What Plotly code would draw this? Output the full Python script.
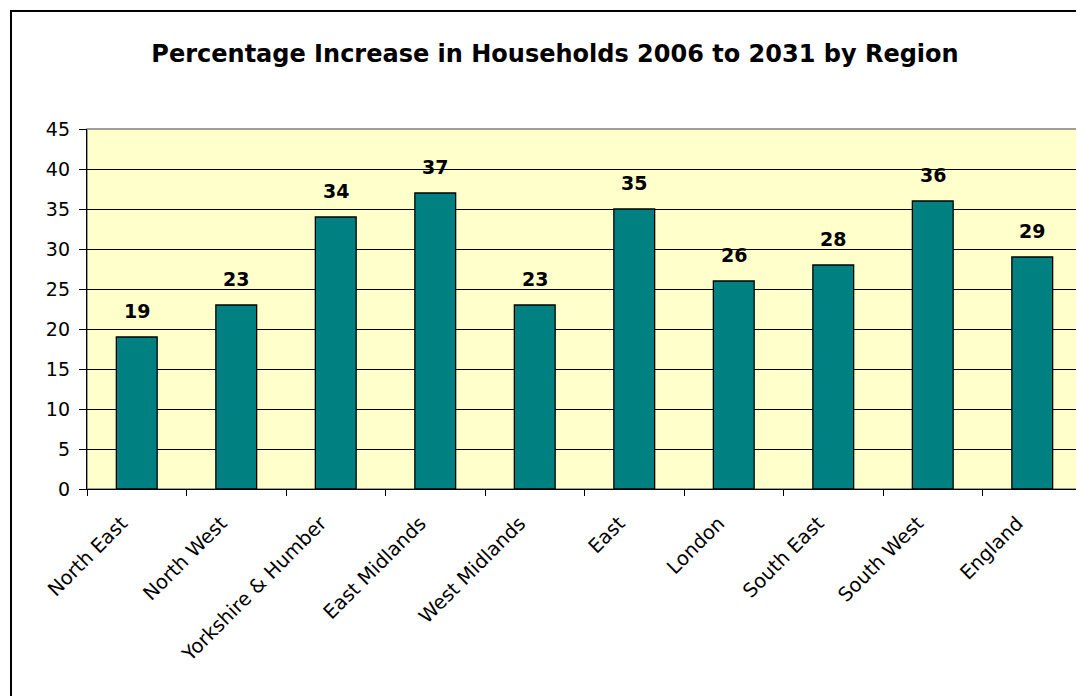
import plotly.graph_objects as go

regions = ["North East", "North West", "Yorkshire & Humber", "East Midlands",
           "West Midlands", "East", "London", "South East", "South West", "England"]
increase = [19, 23, 34, 37, 23, 35, 26, 28, 36, 29]
y_ticks = [0, 5, 10, 15, 20, 25, 30, 35, 40, 45]

# the page body adds an 8px offset, so the figure is drawn 8px smaller
OFF = 8
W, H = 1084 - OFF, 696 - OFF
ML, MT = 87 - OFF, 129 - OFF
MR = W - (1082 - OFF)
MB = H - (489 - OFF)
pw, ph = W - ML - MR, H - MT - MB

FONT = "DejaVu Sans, Arial"

fig = go.Figure()
fig.add_trace(go.Bar(
    x=regions, y=increase,
    marker=dict(color="#008080", line=dict(color="#000000", width=1.3)),
    width=0.41, hoverinfo="skip",
))

for r, v in zip(regions, increase):
    fig.add_annotation(x=r, y=v, text=f"<b>{v}</b>", showarrow=False,
                       yshift=26, font=dict(family=FONT, size=19, color="#000"))

# outer chart frame
fig.add_shape(type="rect", xref="paper", yref="paper",
              x0=(11 - 87) / pw, x1=2.0, y0=-1.0, y1=(489 - 11) / ph,
              line=dict(color="#000000", width=2), fillcolor="rgba(0,0,0,0)", layer="above")
# plot area border (grey)
fig.add_shape(type="rect", xref="paper", yref="paper", x0=0, x1=1, y0=0, y1=1,
              line=dict(color="#808080", width=1.5), layer="below")

fig.update_layout(
    width=W, height=H,
    margin=dict(l=ML, r=MR, t=MT, b=MB),
    paper_bgcolor="#FFFFFF", plot_bgcolor="#FFFFCC",
    showlegend=False,
    font=dict(family=FONT, color="#000"),
    title=dict(text="<b>Percentage Increase in Households 2006 to 2031 by Region</b>",
               x=(555 - OFF) / W, xanchor="center", y=1 - (54 - OFF) / H, yanchor="middle",
               font=dict(size=24, color="#000")),
    xaxis=dict(
        tickangle=-45, tickfont=dict(size=19.5), ticks="outside", ticklen=6,
        ticklabelstandoff=14, ticklabelshift=-15,
        tickson="boundaries", tickcolor="#000", showline=True, linecolor="#000",
        linewidth=1.3, showgrid=False, range=[-0.5, 9.5], fixedrange=True,
    ),
    yaxis=dict(
        range=[0, 45], tickvals=y_ticks, tickfont=dict(size=19), ticks="outside",
        ticklen=7, ticklabelstandoff=5, tickcolor="#000", showline=True,
        linecolor="#000", linewidth=1.3,
        showgrid=True, gridcolor="#000", gridwidth=1.2, zeroline=False, fixedrange=True,
    ),
)

fig.write_html("out.html")
